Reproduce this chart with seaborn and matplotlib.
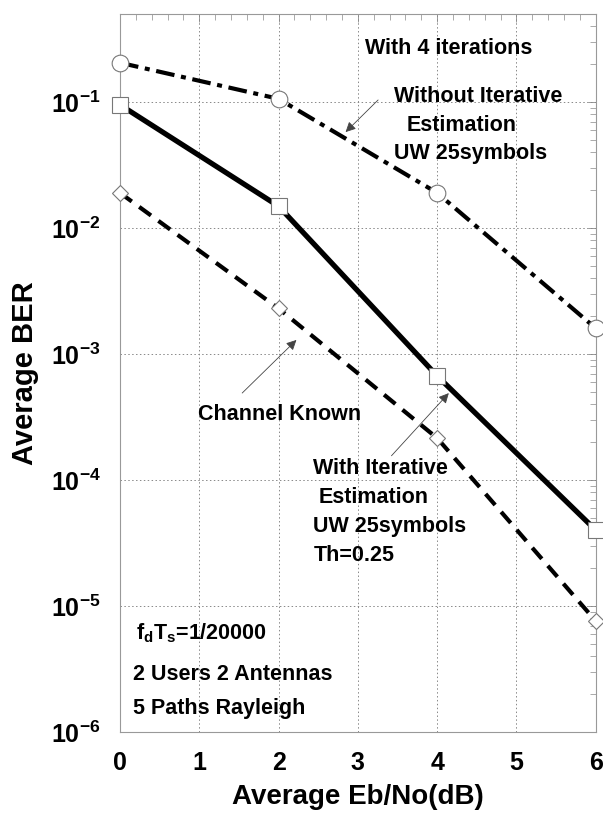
import numpy as np
import pandas as pd
import matplotlib
matplotlib.use("Agg")
import matplotlib.pyplot as plt
import seaborn as sns

# data
ebno = [0, 2, 4, 6]
ber_without = [0.205, 0.106, 0.019, 0.0016]     # without iterative estimation (circles)
ber_with = [0.095, 0.0149, 0.00067, 4.0e-5]     # with iterative estimation (squares)
ber_known = [0.019, 0.0023, 2.15e-4, 7.6e-6]    # channel known (diamonds)

xticks = [0, 1, 2, 3, 4, 5, 6]
yticks = [1e-6, 1e-5, 1e-4, 1e-3, 1e-2, 1e-1]
ytick_labels = [r"$\mathbf{10^{-6}}$", r"$\mathbf{10^{-5}}$", r"$\mathbf{10^{-4}}$",
                r"$\mathbf{10^{-3}}$", r"$\mathbf{10^{-2}}$", r"$\mathbf{10^{-1}}$"]

sns.set_style("white")
plt.rcParams["font.family"] = ["Liberation Sans", "DejaVu Sans"]
plt.rcParams["font.weight"] = "bold"
plt.rcParams["text.color"] = "black"
plt.rcParams["axes.labelcolor"] = "black"
plt.rcParams["xtick.labelcolor"] = "black"
plt.rcParams["ytick.labelcolor"] = "black"
plt.rcParams["mathtext.fontset"] = "custom"
plt.rcParams["mathtext.rm"] = "Liberation Sans:bold"
plt.rcParams["mathtext.bf"] = "Liberation Sans:bold"
plt.rcParams["mathtext.it"] = "Liberation Sans:bold"

df = pd.DataFrame({"ebno": ebno, "without": ber_without, "with": ber_with, "known": ber_known})

fig = plt.figure(figsize=(6.03, 8.21), dpi=100)
ax = fig.add_axes([0.199, 0.1084, 0.789, 0.8746])

mk = dict(markerfacecolor="white", markeredgecolor="#777777", markeredgewidth=0.8, clip_on=False, zorder=5)
sns.lineplot(data=df, x="ebno", y="without", ax=ax, color="black", lw=3.0,
             linestyle=(0, (4.5, 1.6, 1.2, 1.6)), marker="o", markersize=12, **mk)
sns.lineplot(data=df, x="ebno", y="with", ax=ax, color="black", lw=3.8,
             linestyle="-", marker="s", markersize=12, **mk)
sns.lineplot(data=df, x="ebno", y="known", ax=ax, color="black", lw=3.0,
             linestyle=(0, (3.5, 2.2)), marker="D", markersize=8.5, **mk)

ax.set_yscale("log")
ax.set_xlim(0, 6)
ax.set_ylim(1e-6, 0.5)
ax.set_xticks(xticks)
ax.set_xticklabels([str(v) for v in xticks], fontsize=18, fontweight="bold")
ax.set_yticks(yticks)
ax.set_yticklabels(ytick_labels, fontsize=18)
ax.xaxis.set_minor_locator(matplotlib.ticker.MultipleLocator(0.2))
ax.yaxis.set_minor_locator(matplotlib.ticker.LogLocator(base=10, subs=np.arange(2, 10)))
ax.yaxis.set_minor_formatter(matplotlib.ticker.NullFormatter())
ax.tick_params(which="both", direction="in", top=True, right=True, color="#888888")
ax.tick_params(which="major", length=6, width=0.6, pad=14)
ax.tick_params(which="minor", length=4, width=0.5)
ax.grid(True, which="major", linestyle=(0, (1.5, 2.5)), color="#888888", lw=0.7)
for s in ax.spines.values():
    s.set_color("#999999")
    s.set_linewidth(0.8)

ax.set_xlabel("Average Eb/No(dB)", fontsize=20, fontweight="bold")
ax.set_ylabel("Average BER", fontsize=21, fontweight="bold")
ax.xaxis.set_label_coords(0.5, -0.072)
ax.yaxis.set_label_coords(-0.17, 0.5)

tkw = dict(fontsize=15.5, fontweight="bold", va="center", ha="left")
apr = dict(arrowstyle="-|>", color="#444444", lw=0.6, mutation_scale=15)
ax.text(3.09, 0.268, "With 4 iterations", **tkw)
ax.text(3.45, 0.111, "Without Iterative", **tkw)
ax.text(3.62, 0.0655, "Estimation", **tkw)
ax.text(3.45, 0.0387, "UW 25symbols", **tkw)
ax.annotate("", xy=(2.82, 0.0557), xytext=(3.28, 0.1076), arrowprops=apr)

ax.text(0.985, 3.34e-4, "Channel Known", **tkw)
ax.annotate("", xy=(2.25, 1.34e-3), xytext=(1.516, 4.73e-4), arrowprops=apr)

ax.text(2.44, 1.24e-4, "With Iterative", **tkw)
ax.text(2.51, 7.3e-5, "Estimation", **tkw)
ax.text(2.44, 4.3e-5, "UW 25symbols", **tkw)
ax.text(2.44, 2.5e-5, "Th=0.25", **tkw)
ax.annotate("", xy=(4.17, 5.08e-4), xytext=(3.40, 1.50e-4), arrowprops=apr)

ax.text(0.2, 6.1e-6, r"$\mathbf{f_{d}T_{s}}$=1/20000", **tkw)
ax.text(0.16, 2.88e-6, "2 Users 2 Antennas", **tkw)
ax.text(0.16, 1.55e-6, "5 Paths Rayleigh", **tkw)

fig.savefig("out.png", dpi=100)
